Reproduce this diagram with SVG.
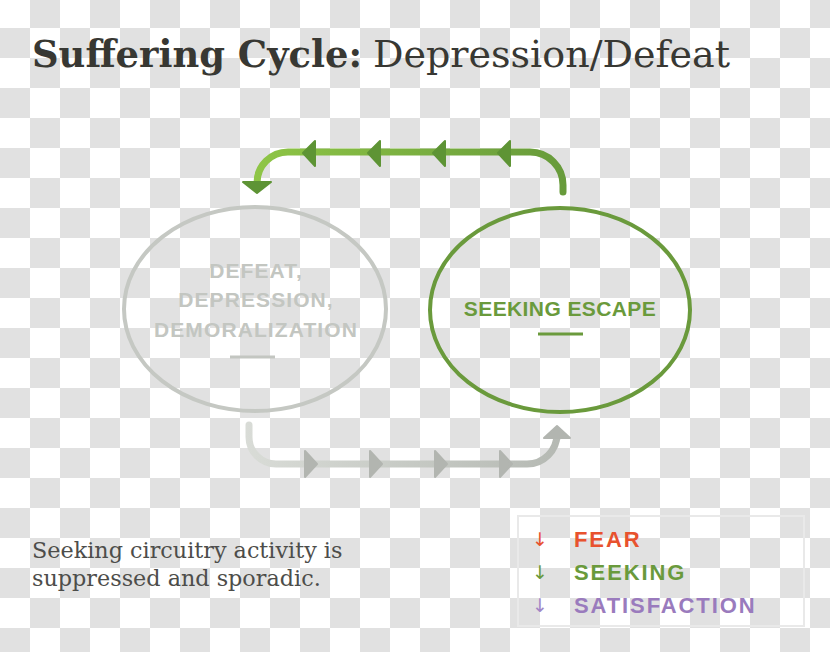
<svg xmlns="http://www.w3.org/2000/svg" width="830" height="652" viewBox="0 0 830 652">
  <defs>
    <pattern id="checker" patternUnits="userSpaceOnUse" x="0" y="-2" width="60" height="60">
      <rect x="0" y="0" width="60" height="60" fill="#ffffff"/>
      <rect x="30" y="0" width="30" height="30" fill="#e1e1e1"/>
      <rect x="0" y="30" width="30" height="30" fill="#e1e1e1"/>
    </pattern>
    <linearGradient id="gTop" gradientUnits="userSpaceOnUse" x1="250" y1="0" x2="570" y2="0">
      <stop offset="0" stop-color="#8fc646"/>
      <stop offset="1" stop-color="#679a3b"/>
    </linearGradient>
    <linearGradient id="gBot" gradientUnits="userSpaceOnUse" x1="245" y1="0" x2="570" y2="0">
      <stop offset="0" stop-color="#d9dcd7"/>
      <stop offset="1" stop-color="#b4b8b2"/>
    </linearGradient>
  </defs>
  <style>
    .title { font-family: "DejaVu Serif", "Liberation Serif", serif; fill: #383833; font-size: 38px; }
    .node { font-family: "Liberation Sans", Arial, sans-serif; font-weight: bold; font-size: 21px; text-anchor: middle; }
    .body { font-family: "DejaVu Serif", "Liberation Serif", serif; font-size: 22.3px; fill: #4d4d4a; }
    .leg { font-family: "Liberation Sans", Arial, sans-serif; font-weight: bold; font-size: 22px; letter-spacing: 1.9px; }
    .arr { font-family: "DejaVu Sans", sans-serif; font-size: 19px; text-anchor: middle; }
    .line { fill: none; stroke-width: 7; stroke-linecap: round; }
    .headG { fill: #5e9435; stroke: #5e9435; stroke-width: 2; stroke-linejoin: round; }
    .headB { fill: #b2b5b0; stroke: #b2b5b0; stroke-width: 2; stroke-linejoin: round; }
  </style>

  <rect x="0" y="0" width="830" height="652" fill="url(#checker)"/>

  <g id="title">
    <text class="title" x="32" y="67" font-weight="bold" textLength="330" lengthAdjust="spacingAndGlyphs">Suffering Cycle:</text>
    <text class="title" x="373" y="67" textLength="357" lengthAdjust="spacingAndGlyphs">Depression/Defeat</text>
  </g>

  <g id="connectors">
    <g id="top-connector">
      <path class="line" stroke="url(#gTop)" d="M 563 192 V 185 A 33 33 0 0 0 530 152 H 288 A 31 31 0 0 0 257 183"/>
      <polygon class="headG" points="243,182 271,182 257,193"/>
      <polygon class="headG" points="303,153 315,141 315,166"/>
      <polygon class="headG" points="368,153 380,141 380,166"/>
      <polygon class="headG" points="433,153 445,141 445,166"/>
      <polygon class="headG" points="498,153 510,141 510,166"/>
    </g>
    <g id="bottom-connector">
      <path class="line" stroke="url(#gBot)" d="M 249 425 V 437 A 27 27 0 0 0 276 464 H 527 A 30 30 0 0 0 557 434 V 438"/>
      <polygon class="headB" points="544,438 570,438 557,426"/>
      <polygon class="headB" points="317,464 305,451 305,477"/>
      <polygon class="headB" points="382,464 370,451 370,477"/>
      <polygon class="headB" points="447,464 435,451 435,477"/>
      <polygon class="headB" points="512,464 500,451 500,477"/>
    </g>
  </g>

  <g id="node-defeat">
    <ellipse cx="255" cy="309" rx="131" ry="102" fill="none" stroke="#c5c8c3" stroke-width="4"/>
    <text class="node" fill="#c3c6c1" letter-spacing="1.1" x="256" y="278">DEFEAT,</text>
    <text class="node" fill="#c3c6c1" letter-spacing="1.1" x="256" y="307">DEPRESSION,</text>
    <text class="node" fill="#c3c6c1" letter-spacing="1.1" x="256" y="337">DEMORALIZATION</text>
    <line x1="230" y1="357" x2="275" y2="357" stroke="#c3c6c1" stroke-width="3"/>
  </g>

  <g id="node-seeking">
    <ellipse cx="560" cy="310" rx="130" ry="102" fill="none" stroke="#6a9a3c" stroke-width="4"/>
    <text class="node" fill="#6a9a3c" letter-spacing="0.4" x="560" y="316">SEEKING ESCAPE</text>
    <line x1="538" y1="334" x2="583" y2="334" stroke="#6a9a3c" stroke-width="3"/>
  </g>

  <g id="caption">
    <text class="body" x="32" y="558">Seeking circuitry activity is</text>
    <text class="body" x="32" y="586">suppressed and sporadic.</text>
  </g>

  <g id="legend">
    <rect x="518" y="516" width="286" height="110" fill="none" stroke="#e9e9e9" stroke-width="2"/>
    <text class="arr" x="540" y="546" fill="#e8522e">↓</text>
    <text class="leg" x="574" y="547" fill="#e8522e">FEAR</text>
    <text class="arr" x="540" y="579" fill="#6a9a3c">↓</text>
    <text class="leg" x="574" y="580" fill="#6a9a3c">SEEKING</text>
    <text class="arr" x="540" y="612" fill="#a287c6">↓</text>
    <text class="leg" x="574" y="613" fill="#9a7bbd">SATISFACTION</text>
  </g>
</svg>
